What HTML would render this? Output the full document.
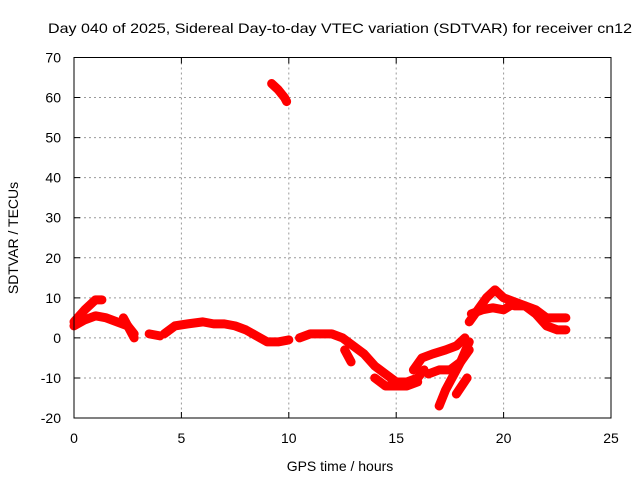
<!DOCTYPE html>
<html><head><meta charset="utf-8"><style>
body{margin:0;background:#fff;}
text{font-family:"Liberation Sans",sans-serif;font-size:14px;fill:#000;}
</style></head><body>
<svg id="chart" width="640" height="480" xmlns="http://www.w3.org/2000/svg">
<rect width="640" height="480" fill="#fff"/>
<text x="340" y="33" text-anchor="middle" textLength="584" lengthAdjust="spacingAndGlyphs">Day 040 of 2025, Sidereal Day-to-day VTEC variation (SDTVAR) for receiver cn12</text>
<g id="grid"></g>
<g id="series"></g>
<rect x="74" y="57.5" width="537" height="360.5" fill="none" stroke="#000" stroke-width="1"/>
<g id="ticks"></g>
<text x="340" y="471" text-anchor="middle">GPS time / hours</text>
<text x="18" y="238" text-anchor="middle" transform="rotate(-90 18 238)">SDTVAR / TECUs</text>
</svg>
<script>
const xTicks=[0,5,10,15,20,25];
const yTicks=[-20,-10,0,10,20,30,40,50,60,70];
const seriesA=[[0,4],[0.5,7],[1,9.5],[1.3,9.5]];
const seriesB=[[0,3],[0.5,4.5],[1,5.5],[1.5,5],[2,4],[2.5,3],[2.8,1]];
const seriesC=[[2.3,5],[2.6,2],[2.8,0]];
const seriesD=[[3.5,1],[4,0.5]];
const seriesE=[[4.2,1],[4.7,3],[5.3,3.5],[6,4],[6.5,3.5],[7,3.5],[7.5,3],[8,2],[8.5,0.5],[9,-1],[9.5,-1],[10,-0.5]];
const seriesF=[[10.5,0],[11,1],[11.5,1],[12,1],[12.5,0],[13,-2],[13.5,-4],[14,-7],[14.5,-9],[15,-11],[15.5,-11],[16,-10],[16.3,-8]];
const seriesG=[[12.6,-3],[12.9,-6]];
const seriesH=[[14,-10],[14.5,-12],[15,-12],[15.5,-12],[16,-11]];
const seriesI=[[15.8,-8],[16.2,-5],[16.7,-4],[17.3,-3],[17.8,-2],[18.2,0]];
const seriesJ=[[16.5,-9],[17,-8],[17.5,-8],[18,-6],[18.4,-3]];
const seriesK=[[17,-17],[17.3,-13],[17.7,-9],[18,-6],[18.4,-1]];
const seriesL=[[17.8,-14],[18.3,-10]];
const seriesM=[[18.4,4],[18.8,7],[19.2,10],[19.6,12],[20,10],[20.5,9],[21,8],[21.5,7],[22,5],[22.5,5],[22.9,5]];
const seriesN=[[18.5,6],[19,7],[19.5,7.5],[20,7],[20.3,8]];
const seriesO=[[20.5,8],[21,8],[21.5,6],[22,3],[22.5,2],[22.9,2]];
const seriesP=[[9.2,63.5],[9.5,62],[9.8,60],[9.9,59]];
const allSeries=[seriesA,seriesB,seriesC,seriesD,seriesE,seriesF,seriesG,seriesH,seriesI,seriesJ,seriesK,seriesL,seriesM,seriesN,seriesO,seriesP];
const NS="http://www.w3.org/2000/svg";
function X(h){return 74+(h-0)/25*537;}
function Y(v){return 418-(v+20)/90*360.5;}
const grid=document.getElementById('grid'),ticks=document.getElementById('ticks'),ser=document.getElementById('series');
xTicks.forEach(t=>{
  const x=X(t);
  if(t>0&&t<25){const g=document.createElementNS(NS,'line');
  
  
  g.setAttribute('x1',x);g.setAttribute('x2',x);g.setAttribute('y1',57.5);g.setAttribute('y2',418);
  g.setAttribute('stroke','#999');g.setAttribute('stroke-dasharray','2,3');grid.appendChild(g);}
  const tk=document.createElementNS(NS,'path');
  
  
  tk.setAttribute('d',`M${x},418v-6M${x},57.5v6`);tk.setAttribute('stroke','#000');ticks.appendChild(tk);
  const l=document.createElementNS(NS,'text');
  
  
  l.setAttribute('x',x);l.setAttribute('y',443);l.setAttribute('text-anchor','middle');l.textContent=t;ticks.appendChild(l);
});
yTicks.forEach(t=>{
  const y=Y(t);
  if(t>-20&&t<70){const g=document.createElementNS(NS,'line');
  
  
  g.setAttribute('x1',74);g.setAttribute('x2',611);g.setAttribute('y1',y);g.setAttribute('y2',y);
  g.setAttribute('stroke','#999');g.setAttribute('stroke-dasharray','2,3');grid.appendChild(g);}
  const tk=document.createElementNS(NS,'path');
  
  
  tk.setAttribute('d',`M74,${y}h6M611,${y}h-6`);tk.setAttribute('stroke','#000');ticks.appendChild(tk);
  const l=document.createElementNS(NS,'text');
  
  
  l.setAttribute('x',61);l.setAttribute('y',y+5);l.setAttribute('text-anchor','end');l.textContent=t;ticks.appendChild(l);
});
allSeries.forEach(s=>{
  const p=document.createElementNS(NS,'polyline');
  
  
  p.setAttribute('points',s.map(d=>X(d[0])+','+Y(d[1])).join(' '));
  p.setAttribute('fill','none');p.setAttribute('stroke','#f00');p.setAttribute('stroke-width','9');
  p.setAttribute('stroke-linejoin','round');p.setAttribute('stroke-linecap','round');
  ser.appendChild(p);
});
</script>
</body></html>
